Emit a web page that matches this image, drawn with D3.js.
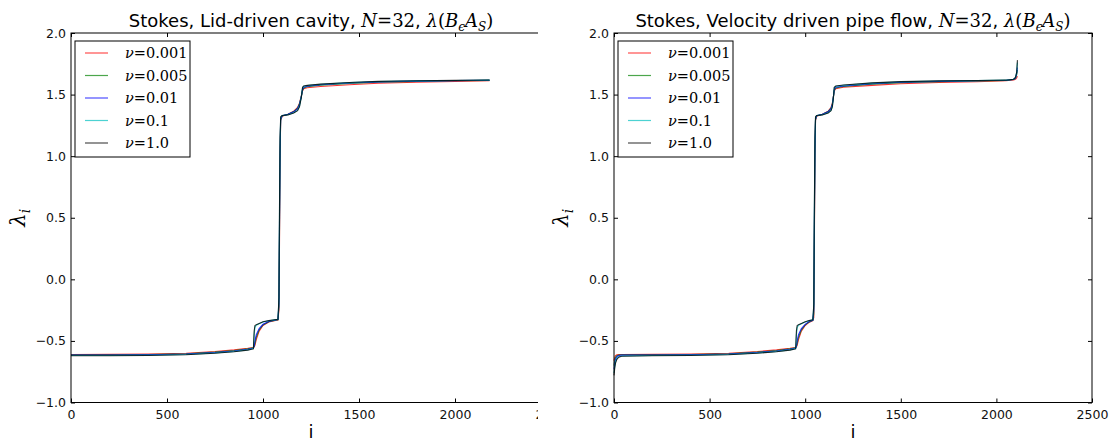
<!DOCTYPE html>
<html>
<head>
<meta charset="utf-8">
<script src="https://cdn.jsdelivr.net/npm/d3@7"></script>
<style>
  body { margin: 0; background: #fff; }
  svg { display: block; }
</style>
</head>
<body>
<svg id="chart" width="1109" height="441"></svg>
<script>
// legend labels and colours (matplotlib classic r, g, b, c, k)
const nuLabels = ["0.001", "0.005", "0.01", "0.1", "1.0"];
const colors = ["#ff0000", "#008000", "#0000ff", "#00bfbf", "#000000"];
const xTicks = [0, 500, 1000, 1500, 2000, 2500];
const yTicks = [-1.0, -0.5, 0.0, 0.5, 1.0, 1.5, 2.0];

// Lid-driven cavity, sampled eigenvalue index
const cavityIdx = [0, 200, 400, 600, 750, 850, 920, 950, 954, 958, 965, 980, 1000, 1030, 1060, 1078, 1083, 1086, 1089, 1092, 1100, 1130, 1160, 1180, 1190, 1200, 1206, 1212, 1230, 1300, 1450, 1600, 1800, 2000, 2180];
const cavityNu0001 = [-0.610, -0.609, -0.606, -0.600, -0.586, -0.573, -0.560, -0.553, -0.548, -0.535, -0.490, -0.420, -0.375, -0.347, -0.335, -0.330, -0.250, 0.300, 1.000, 1.290, 1.325, 1.340, 1.365, 1.395, 1.430, 1.490, 1.530, 1.548, 1.556, 1.566, 1.580, 1.592, 1.600, 1.606, 1.612];
const cavityNu0005 = [-0.612, -0.612, -0.610, -0.604, -0.591, -0.578, -0.564, -0.556, -0.545, -0.520, -0.470, -0.410, -0.370, -0.344, -0.333, -0.328, -0.220, 0.400, 1.020, 1.295, 1.327, 1.340, 1.362, 1.390, 1.425, 1.490, 1.535, 1.553, 1.563, 1.576, 1.590, 1.600, 1.607, 1.612, 1.615];
const cavityNu001 = [-0.614, -0.614, -0.612, -0.606, -0.594, -0.582, -0.568, -0.558, -0.540, -0.500, -0.450, -0.400, -0.365, -0.342, -0.332, -0.327, -0.200, 0.450, 1.050, 1.300, 1.328, 1.340, 1.360, 1.385, 1.420, 1.490, 1.540, 1.560, 1.568, 1.580, 1.594, 1.603, 1.609, 1.613, 1.616];
const cavityNu01 = [-0.618, -0.618, -0.616, -0.610, -0.598, -0.586, -0.573, -0.562, -0.450, -0.390, -0.372, -0.360, -0.346, -0.336, -0.329, -0.325, -0.170, 0.550, 1.120, 1.315, 1.330, 1.336, 1.352, 1.372, 1.405, 1.485, 1.555, 1.568, 1.574, 1.584, 1.597, 1.606, 1.611, 1.614, 1.617];
const cavityNu1 = [-0.620, -0.620, -0.618, -0.612, -0.600, -0.588, -0.575, -0.565, -0.420, -0.375, -0.368, -0.358, -0.345, -0.335, -0.328, -0.325, -0.150, 0.600, 1.150, 1.320, 1.330, 1.335, 1.350, 1.370, 1.400, 1.480, 1.560, 1.570, 1.575, 1.585, 1.598, 1.607, 1.612, 1.615, 1.618];

// Velocity driven pipe flow
const pipeIdx = [0, 4, 8, 15, 25, 40, 200, 400, 600, 750, 850, 920, 950, 954, 958, 965, 980, 1000, 1020, 1040, 1045, 1048, 1051, 1054, 1060, 1090, 1120, 1135, 1142, 1148, 1152, 1160, 1200, 1350, 1500, 1700, 1900, 2050, 2090, 2100, 2106, 2110];
const pipeNu0001 = [-0.660, -0.635, -0.620, -0.613, -0.611, -0.610, -0.609, -0.606, -0.600, -0.586, -0.573, -0.560, -0.553, -0.548, -0.535, -0.490, -0.420, -0.375, -0.350, -0.336, -0.310, 0.300, 1.000, 1.290, 1.325, 1.340, 1.365, 1.395, 1.430, 1.490, 1.530, 1.548, 1.560, 1.575, 1.588, 1.598, 1.605, 1.612, 1.618, 1.625, 1.635, 1.650];
const pipeNu0005 = [-0.700, -0.660, -0.635, -0.620, -0.614, -0.612, -0.612, -0.610, -0.604, -0.591, -0.578, -0.564, -0.556, -0.545, -0.520, -0.470, -0.410, -0.370, -0.346, -0.334, -0.280, 0.400, 1.020, 1.295, 1.327, 1.340, 1.362, 1.390, 1.425, 1.490, 1.535, 1.553, 1.566, 1.585, 1.597, 1.605, 1.610, 1.615, 1.622, 1.632, 1.660, 1.700];
const pipeNu001 = [-0.730, -0.680, -0.650, -0.628, -0.618, -0.615, -0.614, -0.612, -0.606, -0.594, -0.582, -0.568, -0.558, -0.540, -0.500, -0.450, -0.400, -0.365, -0.343, -0.332, -0.250, 0.450, 1.050, 1.300, 1.328, 1.340, 1.360, 1.385, 1.420, 1.490, 1.540, 1.560, 1.570, 1.588, 1.600, 1.607, 1.612, 1.616, 1.623, 1.636, 1.670, 1.720];
const pipeNu01 = [-0.760, -0.705, -0.670, -0.642, -0.628, -0.622, -0.619, -0.616, -0.610, -0.598, -0.586, -0.573, -0.562, -0.450, -0.390, -0.372, -0.360, -0.346, -0.336, -0.329, -0.210, 0.550, 1.120, 1.315, 1.330, 1.336, 1.352, 1.372, 1.405, 1.485, 1.555, 1.568, 1.576, 1.593, 1.604, 1.610, 1.613, 1.617, 1.625, 1.640, 1.680, 1.760];
const pipeNu1 = [-0.780, -0.720, -0.680, -0.650, -0.632, -0.625, -0.621, -0.618, -0.612, -0.600, -0.588, -0.575, -0.565, -0.420, -0.375, -0.368, -0.358, -0.345, -0.335, -0.328, -0.200, 0.600, 1.150, 1.320, 1.330, 1.335, 1.350, 1.370, 1.400, 1.480, 1.560, 1.570, 1.578, 1.595, 1.605, 1.611, 1.614, 1.617, 1.625, 1.640, 1.680, 1.780];

const svg = d3.select("#chart");
const plotTop = 33, plotBottom = 402.5;

const panels = [
  {
    left: 71, right: 551, clipRight: 538, name: "Stokes, Lid-driven cavity, ",
    idx: cavityIdx,
    series: [cavityNu0001, cavityNu0005, cavityNu001, cavityNu01, cavityNu1],
  },
  {
    left: 614, right: 1092, clipRight: null, name: "Stokes, Velocity driven pipe flow, ",
    idx: pipeIdx,
    series: [pipeNu0001, pipeNu0005, pipeNu001, pipeNu01, pipeNu1],
  },
];

const serif = "'DejaVu Serif', 'Liberation Serif', serif";
const sans = "'DejaVu Sans', sans-serif";

panels.forEach((p, k) => {
  const g = svg.append("g");
  if (p.clipRight) {
    svg.append("clipPath").attr("id", "clip" + k)
      .append("rect").attr("x", 0).attr("y", 0)
      .attr("width", p.clipRight).attr("height", 441);
    g.attr("clip-path", "url(#clip" + k + ")");
  }

  const x = d3.scaleLinear().domain([0, 2500]).range([p.left, p.right]);
  const y = d3.scaleLinear().domain([-1, 2]).range([plotBottom, plotTop]);

  // data lines
  const line = d3.line().x((d) => x(d[0])).y((d) => y(d[1]));
  p.series.forEach((vals, s) => {
    g.append("path")
      .datum(p.idx.map((i, j) => [i, vals[j]]))
      .attr("fill", "none")
      .attr("stroke", colors[s])
      .attr("stroke-opacity", 0.8)
      .attr("stroke-width", 1.1)
      .attr("d", line);
  });

  // axes, ticks inward on all four sides
  const fmt = (d) => d3.format(".1f")(d).replace("-", "\u2212");
  const styleAxis = (a) => {
    a.select(".domain").remove();
    a.selectAll("line").attr("stroke", "#000");
    a.selectAll("text").attr("font-family", sans).attr("font-size", 12.5).attr("fill", "#111");
  };
  g.append("g").attr("transform", `translate(0,${plotBottom})`)
    .call(d3.axisBottom(x).tickValues(xTicks).tickSize(-4).tickPadding(8).tickFormat(d3.format("d")))
    .call(styleAxis);
  g.append("g").attr("transform", `translate(0,${plotTop})`)
    .call(d3.axisTop(x).tickValues(xTicks).tickSize(-4).tickFormat(""))
    .call(styleAxis);
  g.append("g").attr("transform", `translate(${p.left},0)`)
    .call(d3.axisLeft(y).tickValues(yTicks).tickSize(-4).tickPadding(5).tickFormat(fmt))
    .call(styleAxis);
  g.append("g").attr("transform", `translate(${p.right},0)`)
    .call(d3.axisRight(y).tickValues(yTicks).tickSize(-4).tickFormat(""))
    .call(styleAxis);

  g.append("rect")
    .attr("x", p.left).attr("y", plotTop)
    .attr("width", p.right - p.left).attr("height", plotBottom - plotTop)
    .attr("fill", "none").attr("stroke", "#000").attr("stroke-width", 1);

  // title
  const cx = (p.left + p.right) / 2;
  const t = g.append("text").attr("x", cx).attr("y", 27)
    .attr("text-anchor", "middle").attr("font-family", sans).attr("font-size", 18).attr("fill", "#000");
  t.append("tspan").text(p.name);
  t.append("tspan").attr("font-family", serif).attr("font-style", "italic").text("N");
  t.append("tspan").attr("font-family", serif).text("=32");
  t.append("tspan").text(", ");
  t.append("tspan").attr("font-family", serif).attr("font-style", "italic").text("\u03bb");
  t.append("tspan").attr("font-family", serif).text("(");
  t.append("tspan").attr("font-family", serif).attr("font-style", "italic").text("B");
  t.append("tspan").attr("font-family", serif).attr("font-style", "italic").attr("font-size", 12).attr("dy", 4).text("\u03f5");
  t.append("tspan").attr("font-family", serif).attr("font-style", "italic").attr("dy", -4).text("A");
  t.append("tspan").attr("font-family", serif).attr("font-style", "italic").attr("font-size", 12).attr("dy", 4).text("S");
  t.append("tspan").attr("font-family", serif).attr("dy", -4).text(")");

  // axis labels
  g.append("text").attr("x", cx).attr("y", 438)
    .attr("text-anchor", "middle").attr("font-family", sans).attr("font-size", 18).text("i");
  const yl = g.append("text")
    .attr("transform", `translate(${p.left - 46},${(plotTop + plotBottom) / 2}) rotate(-90)`)
    .attr("text-anchor", "middle").attr("font-family", serif).attr("font-style", "italic").attr("font-size", 21);
  yl.append("tspan").text("\u03bb");
  yl.append("tspan").attr("font-size", 14).attr("dy", 5).text("i");

  // legend
  const lx = p.left + 4, ly = plotTop + 8;
  const lg = g.append("g");
  lg.append("rect").attr("x", lx).attr("y", ly).attr("width", 115).attr("height", 116)
    .attr("fill", "#fff").attr("stroke", "#000").attr("stroke-width", 1);
  nuLabels.forEach((lab, s) => {
    const yy = ly + 12 + s * 22.5;
    lg.append("line").attr("x1", lx + 10).attr("x2", lx + 33).attr("y1", yy).attr("y2", yy)
      .attr("stroke", colors[s]).attr("stroke-opacity", 0.7).attr("stroke-width", 1.2);
    const tx = lg.append("text").attr("x", lx + 50).attr("y", yy + 5)
      .attr("font-family", serif).attr("font-size", 14.5).attr("fill", "#000");
    tx.append("tspan").attr("font-style", "italic").text("\u03bd");
    tx.append("tspan").text("=" + lab);
  });
});
</script>
</body>
</html>
